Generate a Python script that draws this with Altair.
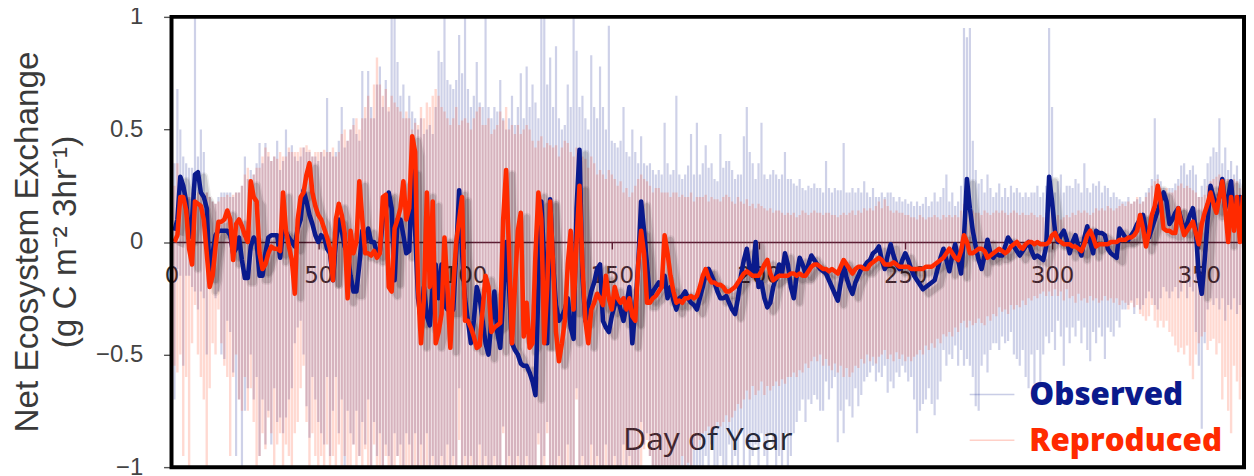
import altair as alt
import pandas as pd

# All values in hundredths of g C m-2 3hr-1, one per day (day 1..366).
obs_mean = [
5,10,29,25,18,2,10,30,31,22, 20,15,-15,-5,3,5,5,5,5,3, -5,-3,2,-8,-16,-16,-2,2,0,-15,
-15,-5,2,3,3,3,-7,5,4,2, 0,-2,6,10,23,18,12,8,3,0, 3,2,-3,-5,-17,0,10,5,-2,-5,
-15,-22,-22,-10,5,0,6,0,0,-5, -4,10,14,22,15,-17,10,10,3,-5, -4,32,5,-25,-35,-20,-33,-37,-20,-10,
-25,-10,-28,-30,-30,-30,-5,23,-5,-25, -35,-45,-35,-20,-25,-35,-45,-50,-35,-22, -40,-47,-25,0,-20,-45,-48,-50,-54,-55,
-55,-58,-62,-68,-20,18,-10,-45,19,-10, -28,-35,-33,-30,-25,-38,-43,15,41,-15, -35,-28,-22,-18,-12,-10,-35,-38,-40,-33,
-28,-25,-30,-35,-28,-20,-45,-30,-10,18, 5,-10,-25,-22,-20,-18,-20,-15,-25,-20, -26,-30,-25,-24,-22,-25,-27,-28,-30,-25,
-20,-14,-12,-15,-18,-22,-25,-25,-24,-27, -30,-32,-25,-15,-8,-3,-12,-15,0,-20, -18,-25,-29,-27,-20,-15,-10,-14,-5,-10,
-20,-25,-15,-7,-10,-14,-10,-6,-8,-10, -12,-13,-14,-17,-20,-23,-26,-18,-10,-16, -20,-23,-18,-15,-12,-11,-9,-8,-5,-4,
-2,-8,-12,-6,-1,-6,-10,-12,-8,-5, -8,-12,-15,-17,-19,-21,-20,-19,-18,-17, -12,-7,-3,-8,-13,-6,-1,-8,-14,2,
28,15,5,-2,-8,-12,-6,1,-5,-7, -5,-6,-6,-2,2,0,-2,-4,-6,-4, -2,0,-4,-7,-6,-7,-8,-2,29,18,
5,0,3,5,1,-5,0,3,-2,-6, 2,7,0,-5,5,4,4,3,-3,-5, -6,-7,6,4,2,1,3,5,8,10,
12,5,2,6,10,14,18,22,18,8, 10,13,15,10,5,8,12,15,5,-15, -23,-8,10,25,20,15,20,28,15,20,
27,10,15,20,15,10]

rep_mean = [
0,3,20,20,14,-3,-10,18,17,16, 10,-5,-20,-15,-2,9,9,10,14,10, -8,8,10,7,3,0,27,20,18,-5,
-12,-10,-5,-2,-3,-3,-4,22,5,-2, -8,-23,10,20,22,30,35,22,16,12, 10,6,2,-3,-17,10,17,12,4,-25,
5,-5,0,27,10,-5,-5,-6,-4,-7, -5,20,21,-20,-22,6,10,15,27,10, 15,47,40,-20,-45,-25,22,-20,18,-45,
-40,-32,2,-20,-47,-20,0,10,20,-35, -35,-38,-42,-47,-46,-30,-15,-20,-40,-38, -37,-36,10,32,-5,-45,-20,5,13,-42,
-27,-47,-45,-5,22,10,-45,-20,18,-10, -40,-53,-45,-35,-10,5,-30,0,25,-10, -35,-45,-30,-27,-23,-25,-28,-15,-25,-30,
-20,-25,-27,-25,-30,-25,-33,-35,-10,5, -5,-27,-27,-25,-24,-22,-20,3,-5,-15, -22,-27,-26,-27,-25,-25,-24,-25,-24,-20,
-15,-12,-16,-18,-18,-19,-19,-20,-22,-22, -21,-20,-18,-16,-14,-13,-14,-15,-15,-15, -13,-10,-8,-14,-17,-16,-15,-15,-15,-15,
-14,-14,-15,-14,-15,-15,-13,-11,-10,-10, -11,-12,-12,-13,-12,-13,-14,-11,-8,-10, -12,-14,-12,-11,-11,-12,-12,-10,-9,-8,
-7,-8,-10,-10,-10,-9,-10,-11,-11,-11, -11,-12,-12,-12,-12,-12,-11,-11,-11,-10, -9,-8,-7,-5,-3,-5,-7,-8,-4,3,
0,-5,-5,-4,-3,-3,-4,-7,-6,-5, -4,-3,-4,-5,-4,-2,-1,0,-2,-3, -1,0,0,-1,0,-1,-1,-1,0,3,
4,1,0,-1,-1,-1,-2,-2,-3,-4, -1,3,5,2,-2,-1,-1,-1,-1,0, 0,0,1,1,1,2,2,3,5,12,
6,-2,4,12,16,25,18,6,5,5, 4,4,15,8,3,5,7,9,4,-1, 8,13,17,22,17,13,20,27,15,0,
20,5,20,0,20,0]

rep_hi = [
25,35,28,25,22,20,22,20,22,22, 20,22,20,18,17,18,20,20,21,20, 21,22,22,25,30,33,28,30,33,33,
38,42,40,36,38,37,40,38,38,42, 40,40,40,42,42,43,41,38,40,40, 40,41,40,40,42,38,40,48,50,45,
50,52,55,50,55,60,65,55,70,82, 70,65,68,60,65,62,60,58,55,58, 55,50,53,52,60,55,62,60,65,68,
65,60,58,55,52,55,60,52,54,55, 53,50,55,58,60,52,52,55,48,50, 52,58,54,60,50,52,48,52,48,50,
52,50,45,42,45,47,42,44,43,42, 43,38,42,45,44,40,38,42,36,38, 37,33,38,35,30,32,30,28,32,30,
28,25,27,22,24,20,22,25,28,30, 28,27,25,22,24,24,22,22,22,20, 22,22,20,21,20,20,22,18,20,20,
20,21,18,20,19,19,18,20,21,20, 18,17,20,18,17,19,16,17,15,17, 16,15,14,15,13,14,14,13,12,13,
12,13,11,12,14,13,12,13,14,13, 13,12,13,13,12,12,11,12,13,12, 13,14,12,14,13,15,14,15,14,16,
18,15,19,16,14,13,14,13,13,12, 12,11,11,10,12,11,10,11,11,12, 11,10,12,11,12,11,12,11,14,17,
14,13,14,13,13,12,14,13,12,13, 14,13,14,13,12,13,14,13,12,13, 12,12,13,12,11,12,11,13,14,13,
11,12,10,11,12,11,13,12,14,13, 14,13,12,13,15,14,15,14,16,15, 14,15,16,17,16,18,17,18,20,17,
18,20,22,25,27,28,24,22,24,22, 22,23,25,26,24,25,24,23,22,20, 20,21,25,27,28,29,30,29,28,28,
27,28,27,24,25,22]

rep_lo = [
-55,-58,-50,-95,-60,-100,-45,-28,-50,-60, -70,-100,-65,-45,-50,-30,-45,-55,-60,-95, -60,-50,-70,-75,-60,-75,-65,-80,-100,-95,
-85,-92,-78,-85,-100,-90,-85,-100,-90,-95, -100,-85,-80,-65,-55,-80,-100,-85,-95,-100, -95,-100,-90,-100,-95,-100,-90,-100,-95,-100,
-100,-90,-100,-95,-100,-92,-100,-100,-90,-100, -100,-100,-95,-100,-100,-100,-95,-100,-100,-100, -100,-100,-100,-100,-100,-100,-100,-100,-100,-100,
-100,-100,-100,-100,-100,-100,-100,-88,-100,-100, -100,-100,-100,-100,-100,-100,-100,-100,-100,-100, -100,-100,-85,-100,-100,-100,-100,-100,-100,-100,
-100,-100,-100,-100,-90,-100,-100,-85,-100,-100, -100,-100,-100,-100,-100,-100,-100,-70,-100,-100, -100,-100,-100,-100,-100,-100,-100,-100,-100,-100,
-100,-100,-100,-100,-100,-100,-100,-100,-100,-100, -92,-88,-95,-100,-100,-100,-100,-100,-100,-100, -100,-100,-100,-95,-100,-98,-100,-92,-92,-88,
-85,-84,-82,-85,-82,-80,-82,-80,-77,-80, -78,-75,-72,-74,-70,-66,-70,-64,-68,-66, -62,-68,-64,-66,-64,-62,-64,-61,-63,-60,
-60,-58,-60,-57,-58,-54,-56,-53,-51,-53, -50,-55,-52,-55,-57,-54,-58,-55,-60,-56, -60,-58,-55,-56,-52,-54,-50,-53,-51,-54,
-51,-50,-48,-52,-50,-53,-49,-52,-50,-53, -51,-53,-51,-50,-48,-50,-46,-48,-45,-47, -43,-45,-41,-42,-40,-42,-38,-40,-36,-35,
-38,-35,-37,-36,-34,-36,-37,-33,-35,-32, -33,-29,-31,-30,-32,-28,-30,-28,-29,-26, -28,-25,-26,-24,-25,-23,-22,-24,-22,-24,
-21,-24,-22,-26,-21,-25,-24,-27,-23,-26, -25,-27,-24,-26,-25,-27,-26,-24,-26,-25, -27,-25,-28,-26,-27,-30,-27,-29,-28,-32,
-33,-35,-33,-28,-35,-38,-35,-38,-35,-40, -42,-46,-49,-47,-50,-46,-55,-61,-50,-45, -42,-40,-48,-44,-43,-50,-45,-70,-60,-75,
-85,-55,-62,-70,-60,-55]

obs_hi = [
35,68,50,38,35,33,33,100,38,50, 40,22,20,18,17,20,22,22,22,22, 20,22,22,25,38,28,32,30,35,44,
35,44,38,36,38,45,32,36,50,40, 43,38,36,38,42,40,40,38,38,36, 40,38,64,40,38,40,45,60,42,45,
50,55,48,45,76,55,76,60,55,70, 78,60,72,58,100,100,80,65,70,55, 65,58,55,50,55,48,50,52,48,60,
85,80,100,72,70,68,72,92,75,100, 68,60,65,80,62,60,100,60,55,60, 58,72,55,50,55,65,52,60,75,55,
78,60,70,62,55,100,100,70,82,60, 87,55,50,52,70,60,100,85,60,65, 55,50,83,60,55,78,60,50,96,45,
44,42,45,60,40,38,50,40,35,47, 35,34,35,32,30,32,30,53,35,30, 32,65,30,28,30,34,48,30,53,30,
35,43,33,35,28,27,48,33,36,36, 32,28,30,30,47,60,40,35,28,35, 53,30,28,30,32,30,28,30,40,28,
28,26,25,28,24,23,25,24,26,24, 24,22,36,24,22,24,23,23,44,22, 22,24,22,24,22,27,22,20,24,20,
20,22,20,22,22,20,18,20,18,19, 17,18,16,18,16,17,20,16,18,22, 18,20,24,30,18,22,16,18,25,95,
91,95,45,32,26,28,22,30,24,20, 22,26,20,24,20,25,22,24,22,20, 22,20,22,22,25,20,22,25,95,60,
22,27,30,22,25,25,24,28,26,22, 35,24,22,26,25,27,22,25,24,20, 22,20,19,18,18,20,17,18,19,20,
18,22,24,28,55,30,27,24,22,24, 24,26,28,34,35,30,32,34,30,20, 25,28,35,38,42,40,55,35,42,32,
36,30,34,28,26,22]

obs_lo = [
-70,-12,-15,-55,-15,-15,-20,-22,-30,-22, -25,-50,-20,-18,-25,-22,-50,-52,-35,-40, -58,-95,-70,-100,-75,-65,-50,-70,-60,-95,
-70,-90,-75,-90,-65,-80,-78,-85,-78,-70, -65,-45,-38,-35,-50,-73,-87,-60,-70,-80, -85,-90,-60,-95,-75,-60,-85,-70,-100,-75,
-85,-90,-75,-95,-80,-90,-70,-100,-80,-95, -85,-100,-90,-95,-100,-85,-95,-90,-100,-85, -90,-100,-85,-100,-90,-100,-85,-100,-95,-100,
-100,-95,-100,-90,-100,-95,-100,-65,-100,-95, -100,-95,-100,-100,-90,-100,-95,-100,-100,-95, -100,-100,-82,-100,-95,-100,-100,-95,-100,-100,
-95,-100,-100,-100,-85,-100,-95,-80,-100,-100, -100,-95,-100,-100,-90,-100,-100,-65,-100,-95, -100,-100,-90,-100,-95,-100,-100,-90,-100,-100,
-95,-100,-100,-90,-100,-95,-100,-100,-100,-80, -90,-85,-95,-100,-100,-100,-100,-100,-100,-100, -100,-100,-100,-100,-100,-100,-100,-100,-100,-100,
-100,-95,-100,-90,-100,-100,-95,-100,-100,-90, -100,-95,-100,-85,-100,-90,-100,-95,-90,-100, -85,-95,-100,-85,-90,-100,-95,-100,-85,-100,
-95,-85,-80,-75,-70,-80,-70,-72,-68,-70, -75,-75,-62,-70,-65,-60,-89,-75,-85,-70, -73,-78,-65,-73,-68,-62,-60,-58,-55,-62,
-58,-60,-55,-67,-62,-65,-58,-60,-55,-58, -62,-60,-70,-85,-75,-72,-70,-65,-72,-77, -70,-62,-48,-55,-50,-52,-46,-55,-48,-55,
-52,-55,-60,-73,-75,-55,-50,-58,-48,-45, -45,-48,-42,-45,-44,-40,-50,-52,-55,-48, -60,-65,-50,-63,-48,-63,-50,-42,-45,-40,
-48,-35,-42,-55,-38,-45,-38,-42,-35,-45, -38,-48,-53,-40,-45,-38,-42,-52,-38,-40, -42,-35,-38,-30,-30,-28,-26,-32,-25,-30,
-28,-25,-22,-25,-28,-30,-25,-20,-22,-25, -22,-20,-25,-22,-18,-25,-20,-22,-40,-55, -83,-45,-30,-25,-28,-25,-30,-25,-35,-28,
-30,-25,-32,-28,-30,-25]

y_ticks = [-1, -0.5, 0, 0.5, 1]
x_ticks = [0, 50, 100, 150, 200, 250, 300, 350]
legend_names = ["Observed", "Reproduced"]
NAVY = "#0a1a8c"
RED = "#ff2a00"
W, H = 1079, 453

for a in (obs_mean, rep_mean, rep_hi, rep_lo, obs_hi, obs_lo):
    assert len(a) == 366, len(a)

df = pd.DataFrame({
    "day": range(1, 367),
    "obs": [v / 100 for v in obs_mean],
    "rep": [v / 100 for v in rep_mean],
    "obs_hi": [v / 100 for v in obs_hi],
    "obs_lo": [v / 100 for v in obs_lo],
    "rep_hi": [v / 100 for v in rep_hi],
    "rep_lo": [v / 100 for v in rep_lo],
})

xs = alt.Scale(domain=[0, 365.4], nice=False, zero=False)
ys = alt.Scale(domain=[-1, 1], nice=False)
base = alt.Chart(df)

x_enc = alt.X("day:Q", scale=xs, axis=alt.Axis(
    values=x_ticks, offset=-H / 2, title="Day of Year", grid=False,
    domainColor="#4a1f30", domainWidth=1.6, tickColor="#4a1f30", tickSize=7, tickWidth=1.4,
    labelFont="DejaVu Sans", labelFontSize=23, labelColor="#2a2a2a", labelPadding=16,
    labelFlush=False, labelOverlap=False,
    titleFont="Open Sans", titleFontSize=32, titleFontWeight="normal", titleColor="#2a2a2a",
    titleX=539, titleY=199, titleBaseline="middle"))
y_enc = alt.Y("obs:Q", scale=ys, axis=alt.Axis(
    values=y_ticks, format="~g", grid=False, domain=False,
    tickColor="#555555", tickSize=8, tickWidth=1.4,
    labelFont="Liberation Sans", labelFontSize=24, labelColor="#444444", labelPadding=21,
    title=["Net Ecosystem Exchange", "(g C m\u207b\u00b2 3hr\u207b\u00b9)"],
    titleFont="Liberation Sans", titleFontSize=33.5, titleFontWeight="normal", titleColor="#3a3a3a",
    titleLineHeight=38, titleX=-128, titleY=226, titleAngle=270, titleAlign="center"))

bars_obs = base.mark_rule(color=NAVY, opacity=0.2, strokeWidth=2.2, clip=True).encode(
    x=alt.X("day:Q", scale=xs), y=alt.Y("obs_lo:Q", scale=ys), y2="obs_hi:Q")
bars_rep = base.mark_rule(color=RED, opacity=0.18, strokeWidth=2.4, clip=True).encode(
    x=alt.X("day:Q", scale=xs), y=alt.Y("rep_lo:Q", scale=ys), y2="rep_hi:Q")


def shadow(field, width, op):
    return base.transform_calculate(sx="datum.day + 2", sy=f"datum.{field} - 0.02").mark_line(
        color="#000000", opacity=op, strokeWidth=width, strokeJoin="round", clip=True
    ).encode(x=alt.X("sx:Q", scale=xs), y=alt.Y("sy:Q", scale=ys))


line_obs = base.mark_line(color=NAVY, strokeWidth=4.6, strokeJoin="round", clip=True).encode(
    x=x_enc, y=y_enc)
line_rep = base.mark_line(color=RED, strokeWidth=4.6, strokeJoin="round", clip=True).encode(
    x=alt.X("day:Q", scale=xs), y=alt.Y("rep:Q", scale=ys))

frame = alt.Chart(pd.DataFrame({"f": [0]})).mark_rect(
    filled=False, stroke="#000000", strokeWidth=4).encode(
    x=alt.value(0), x2=alt.value(W), y=alt.value(0), y2=alt.value(H))

leg_df = pd.DataFrame({"name": legend_names})
leg_layers = []
for name, col, ypx in zip(legend_names, [NAVY, RED], [380, 426]):
    d = leg_df[leg_df.name == name]
    leg_layers.append(alt.Chart(d).mark_rule(color=col, opacity=0.22, strokeWidth=1.6).encode(
        x=alt.value(803), x2=alt.value(848), y=alt.value(ypx)))
    leg_layers.append(alt.Chart(d).mark_text(
        color=col, font="Open Sans", fontWeight=800, fontSize=31.5, align="left", baseline="middle"
    ).encode(x=alt.value(863), y=alt.value(ypx + 1.5), text="name:N"))

chart = alt.layer(
    bars_obs, bars_rep,
    shadow("obs", 9, 0.07), shadow("obs", 6, 0.12),
    shadow("rep", 9, 0.07), shadow("rep", 6, 0.12),
    line_obs, line_rep, *leg_layers, frame,
).properties(
    width=W, height=H,
    autosize=alt.AutoSizeParams(type="none"),
    padding={"left": 164.5, "top": 7.5, "right": 2, "bottom": 8},
).configure_view(stroke=None)

chart.save("out.html", embed_options={"renderer": "svg", "actions": False})
